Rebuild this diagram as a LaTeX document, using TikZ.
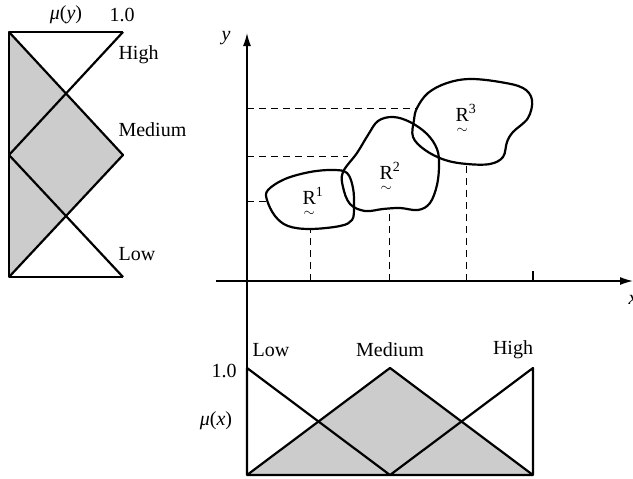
\documentclass[tikz,border=0pt]{standalone}
\usepackage{amsmath}
\usepackage{fontspec}
\setmainfont{Liberation Serif}
\usetikzlibrary{arrows.meta}
\tikzset{
  mf/.style={line width=2.2pt},
  blob/.style={line width=2.2pt,smooth cycle,tension=0.6},
  guide/.style={dashed,line width=1pt,dash pattern=on 7pt off 5pt}
}
\newcommand{\Rlab}[1]{$\underset{\sim}{\text{R}}^{\text{#1}}$}
\begin{document}
\begin{tikzpicture}[line cap=butt,line join=round,>={Latex[length=13pt,width=8pt]},x=1pt,y=-1pt,font=\fontsize{20}{23}\selectfont]
	\useasboundingbox (0,0) rectangle (633,479);
	
	% membership of y, turned on its side
	\fill[gray!40] (9,32) -- (123,155) -- (9,277) -- cycle;
	\draw[mf] (123,32) -- (9,32) -- (9,277) -- (123,277);
	\draw[mf] (123,32) -- (9,155) -- (123,277);
	\draw[mf] (9,32) -- (123,155) -- (9,277);
	\node (muy) at (66,15) {{\itshape μ}(\textit{y})};
	\node (oney) at (122,15) {1.0};
	\node[anchor=west] (highy) at (115,55) {High};
	\node[anchor=west] (medy) at (115,130) {Medium};
	\node[anchor=west] (lowy) at (115,254) {Low};
	
	% axes
	\draw[->,line width=1.4pt] (216,281) -- (633,281);
	\draw[->,line width=1.4pt] (247,475) -- (247,33);
	\node (ylab) at (226,38) {\textit{y}};
	\node (xlab) at (633,300) {\textit{x}};
	\draw[line width=1.4pt] (533,281) -- (533,271);
	
	% projections
	\draw[guide] (247,201) -- (267,201);
	\draw[guide] (247,156) -- (348,156);
	\draw[guide] (247,108) -- (417,108);
	\draw[guide] (310,281) -- (310,229);
	\draw[guide] (389,281) -- (389,210);
	\draw[guide] (466,281) -- (466,164);
	
	% fuzzy relations
	\draw[blob] plot coordinates {(268,190) (285,179) (310,172) (333,170) (347,173) (353,188) (354,207) (352,220) (340,226) (310,229) (288,226) (275,216) (267,200)};
	\draw[blob] plot coordinates {(343,172) (357,153) (368,135) (378,121) (393,117) (410,122) (427,134) (437,149) (439,165) (437,185) (430,203) (418,210) (400,208) (383,209) (365,211) (350,204) (343,187)};
	\draw[blob] plot coordinates {(417,108) (428,93) (447,83) (470,79) (500,82) (523,88) (532,100) (528,118) (513,132) (507,142) (503,157) (490,164) (467,164) (445,160) (425,150) (413,137) (414,120)};
	\node (r1) at (313,203) {\Rlab{1}};
	\node (r2) at (390,178) {\Rlab{2}};
	\node (r3) at (466,120) {\Rlab{3}};
	
	% membership of x
	\fill[gray!40] (247,475) -- (390,368) -- (533,475) -- cycle;
	\draw[mf] (247,368) -- (247,475) -- (533,475) -- (533,368) -- (390,475) -- (247,368);
	\draw[mf] (247,475) -- (390,368) -- (533,475);
	\node (lowx) at (271,350) {Low};
	\node (medx) at (390,350) {Medium};
	\node (highx) at (513,350) {High};
	\node (onex) at (224,371) {1.0};
	\node (mux) at (216,421) {{\itshape μ}(\textit{x})};
\end{tikzpicture}
\end{document}
